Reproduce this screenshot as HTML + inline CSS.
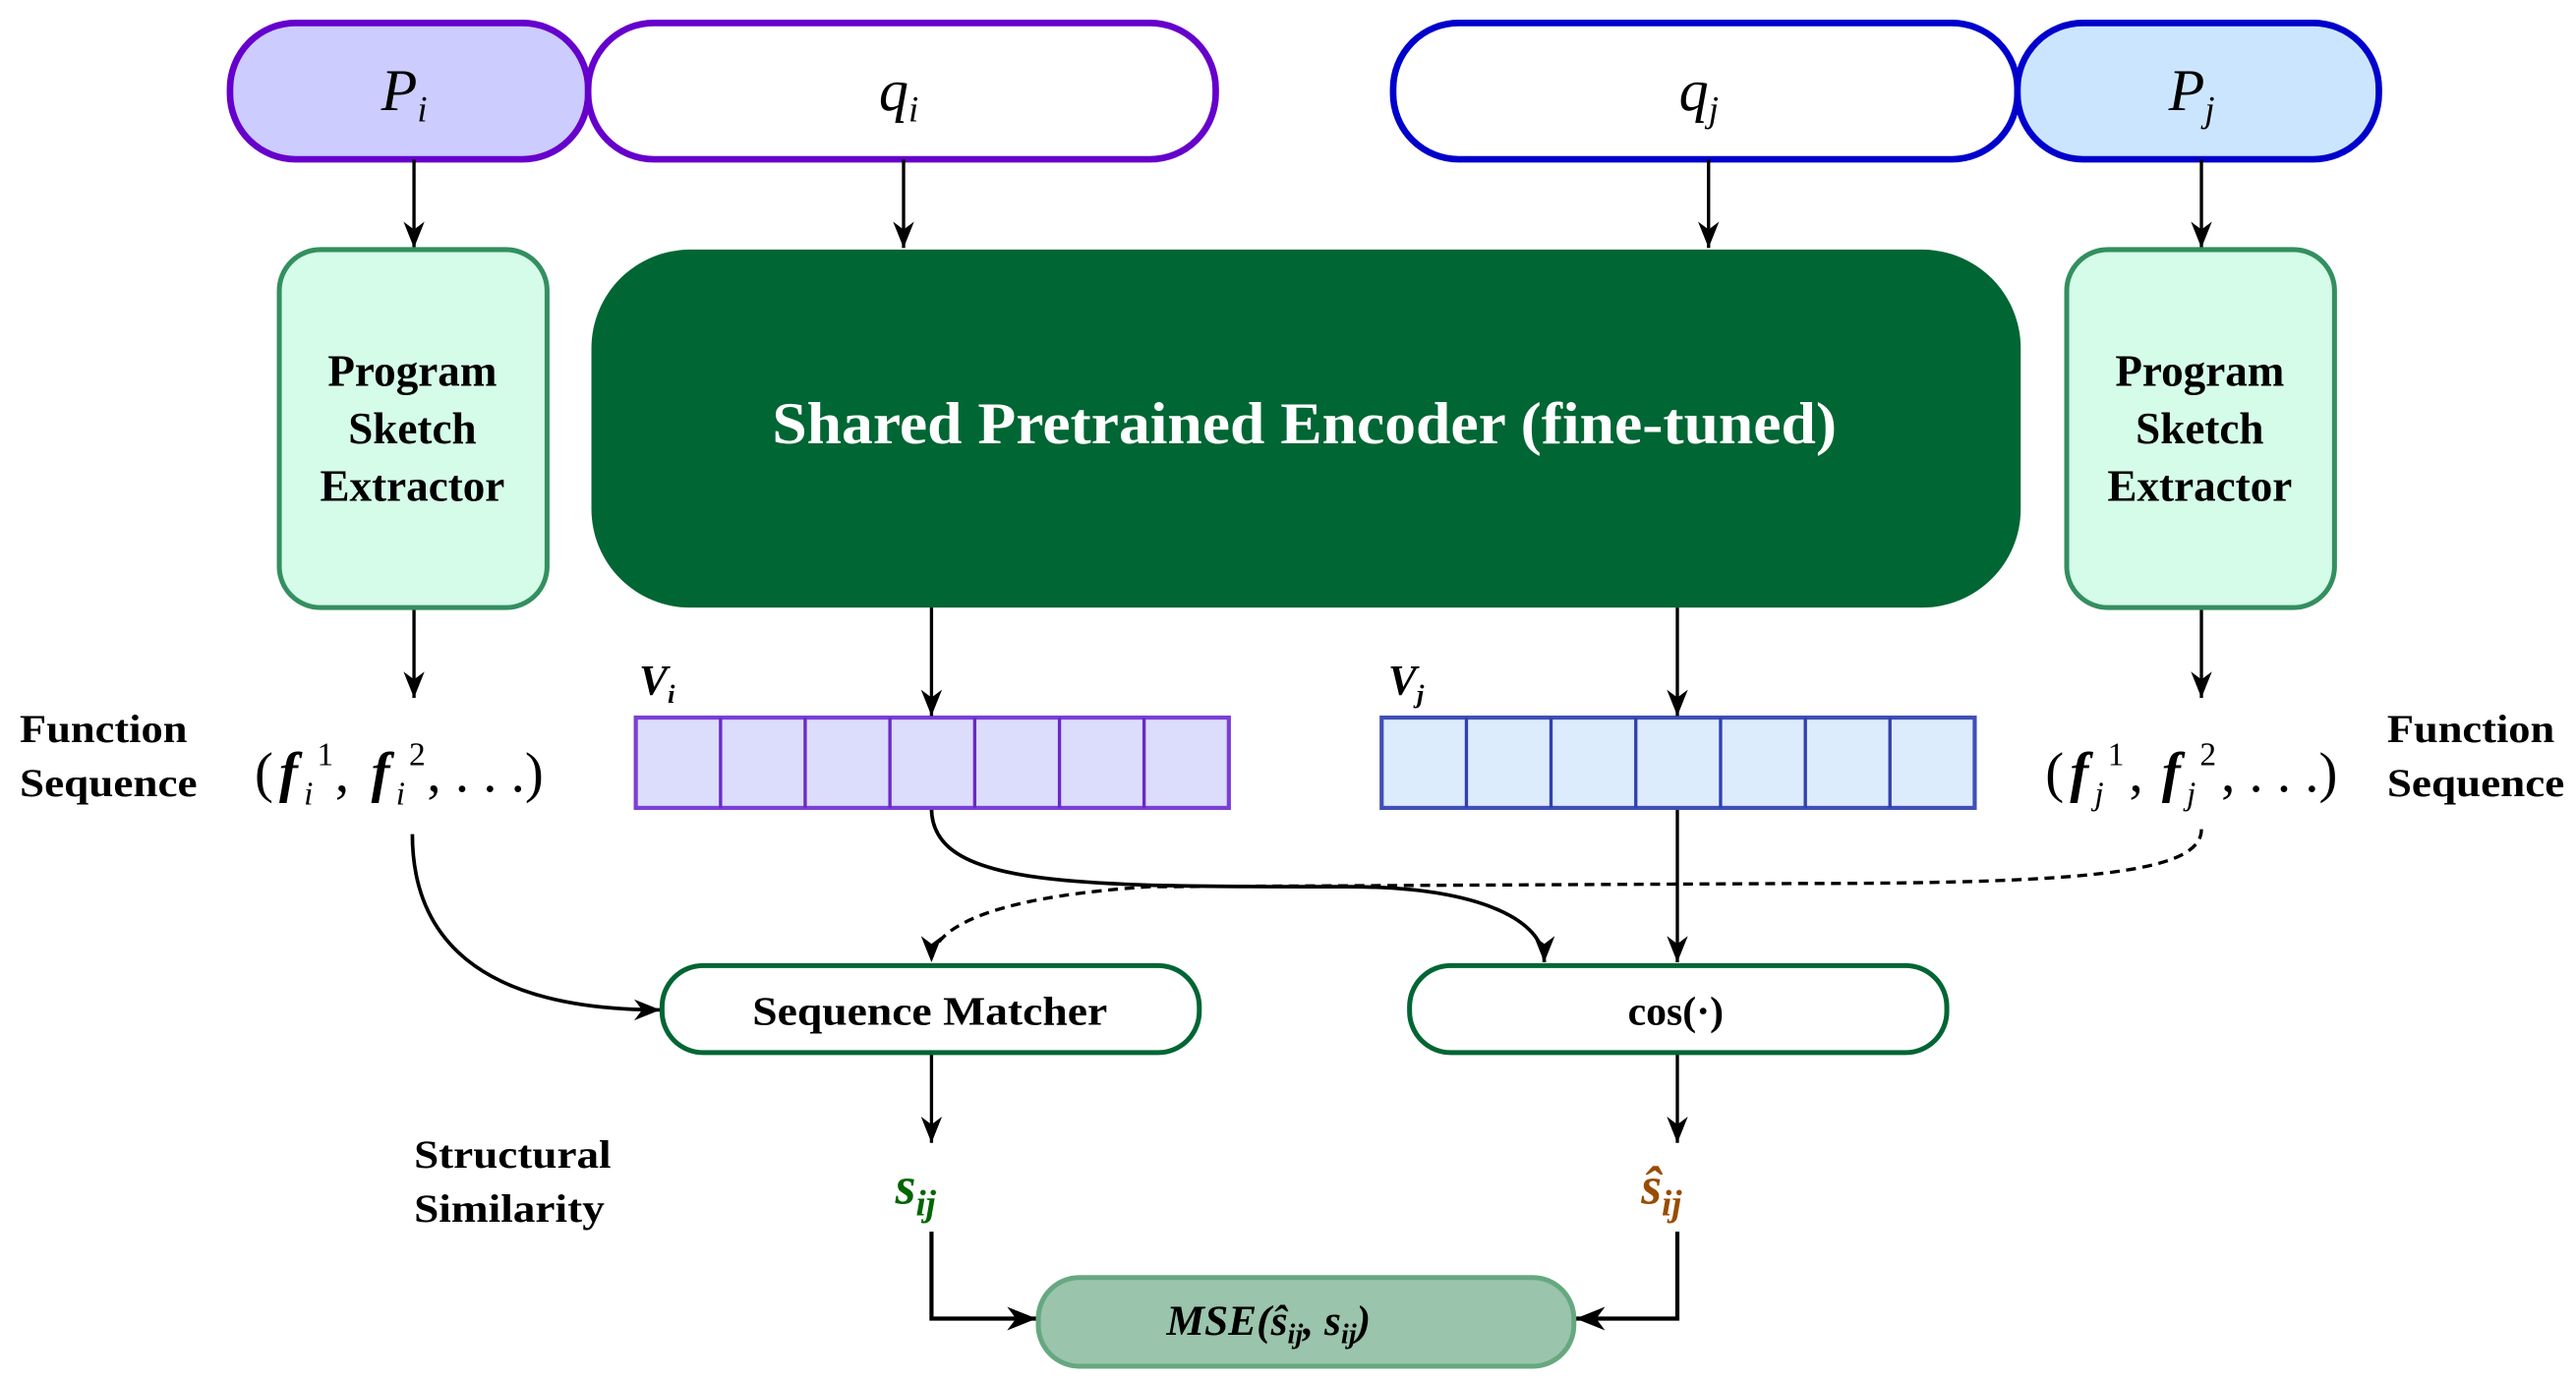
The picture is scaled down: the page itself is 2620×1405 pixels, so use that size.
<!DOCTYPE html>
<html><head><style>
html,body{margin:0;padding:0;background:#fff;}
svg{display:block;}
text{font-family:"Liberation Serif",serif;}
</style></head><body>
<svg width="2620" height="1405" viewBox="0 0 1568 841" preserveAspectRatio="none" xmlns="http://www.w3.org/2000/svg">
<defs>
<marker id="ar" viewBox="0 0 10 10" refX="10" refY="5" markerWidth="16" markerHeight="16" orient="auto" markerUnits="userSpaceOnUse">
<path d="M0,1 L10,5 L0,9 L3,5 z" fill="#000"/></marker>
<marker id="ab" viewBox="0 0 10 10" refX="10" refY="5" markerWidth="18" markerHeight="18" orient="auto" markerUnits="userSpaceOnUse">
<path d="M0,1 L10,5 L0,9 L3,5 z" fill="#000"/></marker>
</defs>
<rect x="140" y="14" width="218" height="83" rx="40" fill="#ccccff" stroke="#6600cc" stroke-width="4"/>
<rect x="358" y="14" width="382" height="83" rx="40" fill="#fff" stroke="#6600cc" stroke-width="4"/>
<rect x="848" y="14" width="380" height="83" rx="40" fill="#fff" stroke="#0000cc" stroke-width="4"/>
<rect x="1228" y="14" width="220" height="83" rx="40" fill="#cce5ff" stroke="#0000cc" stroke-width="4"/>
<g font-size="36" font-style="italic">
<text x="232" y="67">P<tspan font-size="22" dy="7">i</tspan></text>
<text x="535" y="67">q<tspan font-size="22" dy="7">i</tspan></text>
<text x="1022" y="67">q<tspan font-size="22" dy="7">j</tspan></text>
<text x="1320" y="67">P<tspan font-size="22" dy="7">j</tspan></text>
</g>

<g stroke="#000" stroke-width="2" fill="none">
<line x1="252" y1="97" x2="252" y2="151" marker-end="url(#ar)"/>
<line x1="550" y1="97" x2="550" y2="151" marker-end="url(#ar)"/>
<line x1="1040" y1="97" x2="1040" y2="151" marker-end="url(#ar)"/>
<line x1="1340" y1="97" x2="1340" y2="151" marker-end="url(#ar)"/>
<line x1="252" y1="370" x2="252" y2="425" marker-end="url(#ar)"/>
<line x1="1340" y1="370" x2="1340" y2="425" marker-end="url(#ar)"/>
<line x1="1021" y1="492" x2="1021" y2="586" marker-end="url(#ar)"/>
<line x1="567" y1="641" x2="567" y2="696" marker-end="url(#ar)"/>
<line x1="1021" y1="641" x2="1021" y2="696" marker-end="url(#ar)"/>
<path d="M251,508 C251,570 290,615 402,615" marker-end="url(#ar)" stroke-width="2.2"/>
<path d="M567,492 C567,540 650,540 820,540 C900,540 940,560 940,586" marker-end="url(#ar)" stroke-width="2.2"/>
<path d="M1340,505 C1340,530 1280,538 1100,538 L700,540 C620,545 567,560 567,586" stroke-dasharray="6,4" marker-end="url(#ar)"/>
<path d="M567,750 L567,803 L631,803" marker-end="url(#ab)" stroke-width="2.5"/>
<path d="M1021,750 L1021,803 L959,803" marker-end="url(#ab)" stroke-width="2.5"/>
</g>

<rect x="170" y="152" width="163" height="218" rx="25" fill="#d5fbe9" stroke="#338f5f" stroke-width="3"/>
<rect x="1258" y="152" width="163" height="218" rx="25" fill="#d5fbe9" stroke="#338f5f" stroke-width="3"/>
<g font-size="27" font-weight="bold" text-anchor="middle">
<text x="251" y="235">Program</text><text x="251" y="270">Sketch</text><text x="251" y="305">Extractor</text>
<text x="1339" y="235">Program</text><text x="1339" y="270">Sketch</text><text x="1339" y="305">Extractor</text>
</g>
<rect x="360" y="152" width="870" height="218" rx="60" fill="#006633"/>
<text x="470" y="270" font-size="36" font-weight="bold" fill="#fff" textLength="648" lengthAdjust="spacingAndGlyphs">Shared Pretrained Encoder (fine-tuned)</text>

<text x="389" y="423" font-size="26" font-style="italic" font-weight="bold">V<tspan font-size="16" dy="5">i</tspan></text>
<text x="845" y="423" font-size="26" font-style="italic" font-weight="bold">V<tspan font-size="16" dy="5">j</tspan></text>
<rect x="387" y="437" width="361" height="55" fill="#dcdcfc" stroke="#7a3fd6" stroke-width="2.5"/>
<g stroke="#6a2ac6" stroke-width="2">
<line x1="438.6" y1="437" x2="438.6" y2="492"/><line x1="490.1" y1="437" x2="490.1" y2="492"/><line x1="541.7" y1="437" x2="541.7" y2="492"/><line x1="593.3" y1="437" x2="593.3" y2="492"/><line x1="644.9" y1="437" x2="644.9" y2="492"/><line x1="696.4" y1="437" x2="696.4" y2="492"/>
</g>
<rect x="841" y="437" width="361" height="55" fill="#dcecfc" stroke="#3f4fb5" stroke-width="2.5"/>
<g stroke="#3040b0" stroke-width="2">
<line x1="892.6" y1="437" x2="892.6" y2="492"/><line x1="944.1" y1="437" x2="944.1" y2="492"/><line x1="995.7" y1="437" x2="995.7" y2="492"/><line x1="1047.3" y1="437" x2="1047.3" y2="492"/><line x1="1098.9" y1="437" x2="1098.9" y2="492"/><line x1="1150.4" y1="437" x2="1150.4" y2="492"/>
</g>
<line x1="567" y1="370" x2="567" y2="436" stroke="#000" stroke-width="2" marker-end="url(#ar)"/>
<line x1="1021" y1="370" x2="1021" y2="436" stroke="#000" stroke-width="2" marker-end="url(#ar)"/>

<g font-size="24" font-weight="bold">
<text x="12" y="452" textLength="102" lengthAdjust="spacingAndGlyphs">Function</text><text x="12" y="485" textLength="108" lengthAdjust="spacingAndGlyphs">Sequence</text>
<text x="1453" y="452" textLength="102" lengthAdjust="spacingAndGlyphs">Function</text><text x="1453" y="485" textLength="108" lengthAdjust="spacingAndGlyphs">Sequence</text>
<text x="252" y="711" textLength="120" lengthAdjust="spacingAndGlyphs">Structural</text><text x="252" y="744" textLength="116" lengthAdjust="spacingAndGlyphs">Similarity</text>
</g>
<g font-size="34">
<text x="155" y="482">(</text>
<text x="170" y="482" font-style="italic" font-weight="bold">f</text>
<text x="193" y="466" font-size="20">1</text>
<text x="185" y="490" font-size="20" font-style="italic">i</text>
<text x="204" y="482">,</text>
<text x="226" y="482" font-style="italic" font-weight="bold">f</text>
<text x="249" y="466" font-size="20">2</text>
<text x="241" y="490" font-size="20" font-style="italic">i</text>
<text x="260" y="482">, . . .)</text>

<text x="1245" y="482">(</text>
<text x="1260" y="482" font-style="italic" font-weight="bold">f</text>
<text x="1283" y="466" font-size="20">1</text>
<text x="1275" y="490" font-size="20" font-style="italic">j</text>
<text x="1296" y="482">,</text>
<text x="1316" y="482" font-style="italic" font-weight="bold">f</text>
<text x="1339" y="466" font-size="20">2</text>
<text x="1331" y="490" font-size="20" font-style="italic">j</text>
<text x="1352" y="482">, . . .)</text>
</g>

<rect x="403" y="588" width="327" height="53" rx="25" fill="#fff" stroke="#006633" stroke-width="3"/>
<rect x="858" y="588" width="327" height="53" rx="25" fill="#fff" stroke="#006633" stroke-width="3"/>
<text x="458" y="624" font-size="25" font-weight="bold" textLength="216" lengthAdjust="spacingAndGlyphs">Sequence Matcher</text>
<text x="1020" y="624" font-size="25" font-weight="bold" text-anchor="middle">cos(·)</text>

<text x="545" y="733" font-size="32" font-weight="bold" font-style="italic" fill="#006600">s<tspan font-size="22" dy="7">ij</tspan></text>
<text x="999" y="733" font-size="32" font-weight="bold" font-style="italic" fill="#994c00">ŝ<tspan font-size="22" dy="7">ij</tspan></text>

<rect x="632" y="778" width="326" height="54" rx="25" fill="#9ac4ab" stroke="#66a880" stroke-width="3"/>
<text x="710" y="813" font-size="26" font-style="italic" font-weight="bold">MSE(ŝ<tspan font-size="17" dy="5">ij</tspan><tspan dy="-5">, s</tspan><tspan font-size="17" dy="5">ij</tspan><tspan dy="-5">)</tspan></text>
</svg>
</body></html>
